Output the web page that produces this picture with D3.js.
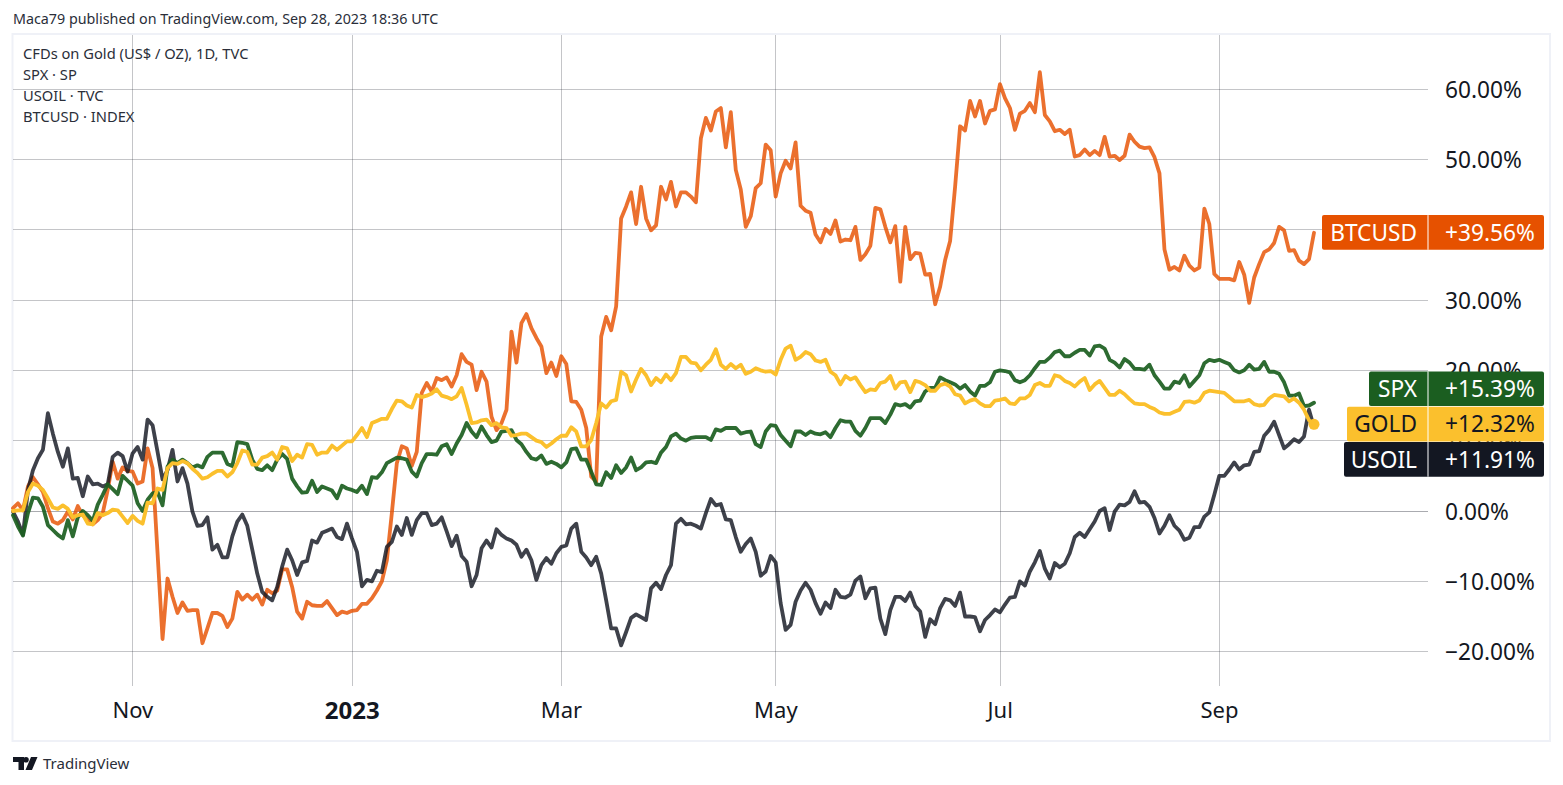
<!DOCTYPE html>
<html>
<head>
<meta charset="utf-8">
<script src="https://cdn.jsdelivr.net/npm/d3@7"></script>
<style>
html, body { margin: 0; padding: 0; background: #fff; overflow: hidden; }
svg { display: block; }
text { font-family: "Noto Sans", sans-serif; fill: #131722; }
.grid line { stroke: #2a2e39; stroke-opacity: .28; stroke-width: 1; shape-rendering: crispEdges; }
.grid .domain { display: none; }
.grid text { font-size: 22.7px; }
.series { fill: none; stroke-width: 3.8; stroke-linejoin: round; stroke-linecap: round; }
</style>
</head>
<body>
<script>
// all values in % change, one per daily bar
const gold = [
0.0,0.1,0.1,2.7,3.9,3.6,3.0,1.8,0.5,0.3,
0.8,0.3,-0.9,-0.6,-0.5,-1.8,-1.9,-0.3,-0.6,-0.3,
0.2,0.1,-0.8,-1.7,-0.7,-1.4,-1.8,1.2,1.1,3.2,
3.0,6.1,6.8,6.7,7.1,6.8,6.0,5.4,4.6,4.8,
5.3,5.7,5.7,4.9,5.5,6.8,8.6,8.4,6.6,6.6,
7.6,7.8,8.3,7.3,9.1,8.9,7.1,8.0,7.6,9.5,
9.4,8.0,8.3,8.3,9.3,8.7,9.3,9.9,9.9,10.8,
11.8,10.5,12.5,12.8,13.1,13.1,14.5,15.7,15.6,15.0,
14.7,16.5,16.2,16.4,16.7,17.3,16.4,16.2,15.9,16.3,
17.5,15.1,12.5,12.6,12.9,13.0,12.2,12.5,11.9,11.8,
10.7,10.8,11.0,11.0,10.5,10.0,9.8,9.1,9.6,10.2,
10.7,10.7,11.9,11.3,9.2,9.2,10.1,12.5,15.3,14.7,
15.6,15.8,19.8,19.3,17.0,18.7,20.2,19.3,17.9,18.9,
18.3,19.4,18.6,19.6,21.9,21.9,21.1,21.0,20.0,20.8,
21.5,23.0,20.8,20.2,20.9,20.3,20.8,19.5,19.8,20.3,
20.0,19.8,19.9,19.4,21.5,23.1,23.5,21.5,21.9,22.6,
22.3,21.4,21.2,21.5,19.8,19.3,18.0,19.2,18.7,19.0,
17.9,16.9,17.3,17.2,18.2,18.4,19.2,17.4,18.3,18.4,
16.9,18.5,18.3,17.9,17.1,17.1,17.9,18.1,17.7,16.6,
16.4,15.3,15.7,15.9,15.3,14.9,14.9,15.7,15.8,16.0,
15.3,15.2,16.0,16.0,16.5,17.9,18.2,17.8,17.8,19.3,
19.1,18.5,18.2,17.7,18.4,18.9,17.2,18.0,18.5,17.5,
16.5,16.5,17.1,16.6,15.9,15.3,15.2,15.2,14.8,14.5,
14.0,13.8,13.8,14.1,14.4,15.5,15.6,15.4,15.7,16.8,
17.1,17.0,16.9,16.8,16.2,15.6,15.6,15.6,15.8,15.2,
15.0,15.1,16.0,16.5,16.4,16.3,15.6,16.0,15.4,14.4,
12.9,12.32];

const spx = [
-0.6,-2.2,-3.5,-0.3,1.9,1.8,0.6,-2.0,-2.7,-3.4,
-3.9,-1.3,-3.6,-0.9,0.0,-0.6,-1.4,0.9,2.3,3.8,
3.1,2.4,5.0,4.3,3.6,1.1,0.0,1.6,2.5,2.7,
0.8,6.3,7.3,6.8,7.3,6.8,6.2,6.5,6.2,7.7,
8.3,8.3,8.3,6.7,6.4,9.8,9.7,9.5,7.3,6.0,
5.8,6.5,5.8,7.3,8.1,7.4,4.6,3.5,2.6,2.7,
4.3,2.7,3.5,3.2,2.9,1.8,3.6,3.2,3.0,2.7,
3.6,2.4,4.8,4.7,5.5,6.8,7.2,7.6,7.5,7.3,
5.6,4.9,6.8,8.1,8.1,8.0,9.2,9.5,8.1,9.6,
10.8,12.5,11.3,10.5,12.0,10.8,9.8,10.0,11.3,11.4,
11.5,10.1,9.5,8.4,7.5,7.3,7.9,6.7,7.0,6.7,
6.2,6.9,8.8,8.9,7.3,7.3,5.6,3.8,3.7,5.5,
4.7,6.5,5.4,6.2,7.6,5.8,6.2,6.9,7.0,6.8,
8.3,9.1,10.6,11.0,10.3,10.0,10.4,10.5,10.5,10.5,
10.1,11.6,11.4,11.8,11.8,11.8,11.0,11.2,11.3,9.5,
9.1,11.3,12.2,12.1,10.8,10.0,9.2,11.3,11.3,10.8,
11.3,11.0,10.9,11.2,10.5,11.8,12.9,12.7,12.7,11.4,
10.7,11.8,13.2,13.2,13.2,12.5,13.7,15.2,15.0,15.2,
14.7,15.6,15.7,17.0,17.5,17.5,19.0,18.6,18.3,18.0,
17.4,17.9,17.0,16.4,17.8,17.8,18.3,19.8,20.0,19.9,
19.7,18.6,18.3,18.6,19.3,20.3,21.2,21.2,21.8,22.6,
22.8,22.0,22.0,22.5,22.9,22.9,22.1,23.4,23.5,23.1,
21.5,21.1,20.4,21.6,21.1,20.2,20.2,20.1,20.8,19.3,
18.4,17.4,17.4,18.4,18.2,19.3,17.7,18.5,19.3,21.0,
21.5,21.3,21.5,21.2,20.9,20.0,19.7,20.0,20.8,20.1,
20.2,21.2,19.8,19.8,19.5,18.3,16.4,16.4,16.7,14.9,
15.0,15.39];

const usoil = [
-0.1,-1.5,-3.4,3.0,5.8,7.5,8.7,13.9,11.0,8.4,
6.3,8.9,4.6,4.7,2.1,4.9,3.8,3.9,3.5,3.8,
7.7,8.3,7.8,5.6,8.2,9.1,7.3,13.0,12.2,8.4,
4.5,5.8,8.7,4.2,6.1,3.9,-0.1,-2.1,-2.0,-0.9,
-5.5,-4.8,-6.6,-6.6,-3.6,-1.5,-0.5,-2.1,-5.5,-8.9,
-11.5,-12.2,-12.7,-10.8,-7.9,-5.5,-7.0,-9.1,-7.3,-7.1,
-4.2,-4.5,-3.1,-2.8,-2.5,-3.7,-4.0,-1.8,-3.9,-5.8,
-10.7,-9.8,-10.0,-8.5,-8.7,-5.1,-4.4,-2.2,-3.4,-1.0,
-3.4,-1.3,-0.3,-0.3,-2.0,-1.8,-0.9,-2.9,-5.0,-3.5,
-6.4,-7.2,-10.7,-9.1,-5.3,-4.2,-5.2,-2.6,-3.4,-3.9,
-4.2,-4.8,-6.5,-5.5,-7.0,-9.8,-7.7,-6.7,-7.5,-6.0,
-5.1,-4.9,-2.5,-1.8,-5.8,-6.6,-7.7,-6.5,-8.9,-12.7,
-16.7,-16.7,-19.1,-17.2,-15.2,-14.7,-15.1,-15.5,-11.0,-10.2,
-11.1,-9.1,-7.7,-1.8,-1.1,-1.9,-1.8,-2.1,-2.5,-0.3,
1.7,0.8,1.0,-1.2,-1.3,-3.7,-5.8,-4.7,-3.9,-5.8,
-9.2,-8.6,-6.4,-7.3,-13.1,-16.9,-16.2,-12.9,-11.3,-10.2,
-11.2,-13.1,-14.6,-13.0,-13.8,-11.2,-12.2,-12.3,-11.9,-9.9,
-9.3,-12.4,-11.0,-10.9,-15.3,-17.5,-14.1,-12.2,-12.2,-12.8,
-11.6,-13.5,-14.3,-17.9,-15.4,-16.1,-13.8,-12.5,-12.7,-13.5,
-11.6,-15.0,-15.0,-15.1,-17.1,-15.5,-14.8,-14.0,-14.4,-13.3,
-12.3,-12.2,-10.0,-10.6,-8.6,-7.3,-5.7,-8.2,-9.6,-7.4,
-8.0,-7.5,-6.0,-3.7,-3.1,-3.7,-2.6,-1.5,0.0,0.4,
-2.7,-0.1,0.9,0.8,1.3,2.8,1.2,1.3,0.6,-1.0,
-3.2,-2.1,-0.6,-2.1,-2.8,-4.1,-3.8,-2.3,-2.3,-0.8,
-0.2,2.3,5.0,5.0,5.9,6.9,5.9,6.5,6.6,8.4,
8.5,10.7,11.5,12.7,10.8,8.9,9.5,10.2,9.8,10.6,
14.4,11.91];

const btcusd = [
0.4,1.1,0.1,3.5,4.8,3.8,2.7,0.4,-1.5,-1.8,
-1.3,-0.1,-1.2,0.7,-0.6,-1.3,-1.9,-1.3,-0.3,3.0,
7.0,4.6,6.2,5.7,5.6,3.9,4.2,8.9,6.1,-6.0,
-18.2,-9.6,-12.2,-14.5,-13.0,-14.2,-14.1,-14.1,-18.8,-16.7,
-14.5,-14.5,-14.9,-16.5,-15.3,-11.5,-12.6,-11.9,-12.6,-11.9,
-13.3,-11.2,-11.7,-11.3,-8.3,-8.3,-10.8,-14.3,-15.3,-12.9,
-13.4,-13.5,-13.5,-12.8,-13.8,-14.8,-14.3,-14.5,-14.2,-14.1,
-13.2,-13.2,-12.4,-11.3,-10.0,-7.0,-0.3,6.8,9.2,8.9,
6.4,8.4,16.8,18.2,17.0,18.9,18.6,19.0,17.7,19.3,
22.3,21.2,20.8,17.2,19.8,18.4,13.4,11.5,12.5,14.4,
25.5,21.1,26.7,28.0,26.0,24.6,23.4,19.6,21.1,19.2,
22.0,20.9,15.6,15.5,14.4,11.8,4.9,4.2,24.8,27.6,
25.7,29.1,41.6,43.3,45.3,40.8,46.1,41.6,39.9,40.6,
46.1,44.3,46.8,43.3,45.3,45.3,44.7,43.9,53.0,55.9,
54.1,56.8,57.3,51.7,56.7,48.5,45.7,40.4,41.9,45.9,
46.6,52.1,51.3,44.7,48.0,49.8,48.7,52.4,43.4,42.7,
42.4,39.3,38.2,40.1,39.4,41.3,38.3,38.6,38.5,40.4,
35.7,36.5,37.7,43.1,42.9,40.4,38.2,40.5,32.6,40.4,
35.8,36.7,36.6,33.6,33.7,29.4,31.9,35.7,38.4,46.1,
54.7,54.1,58.3,56.1,58.3,55.1,56.9,57.1,60.7,58.7,
57.3,54.2,56.5,56.9,58.0,56.7,62.4,56.3,55.4,54.0,
54.2,53.6,54.2,50.4,50.6,51.4,50.6,51.2,50.6,53.2,
50.4,50.5,49.9,50.5,53.5,52.5,51.8,51.6,51.7,50.3,
48.0,37.2,34.3,34.7,34.2,36.3,34.9,34.2,34.6,43.0,
40.8,33.7,33.0,33.0,33.0,32.8,35.4,33.6,29.6,33.2,
35.1,36.8,37.2,38.1,40.4,39.9,37.0,37.1,35.6,35.1,
35.8,39.56];

const percentTicks = [-20, -10, 0, 10, 20, 30, 40, 50, 60];
const monthBars = [24, 68, 110, 153, 198, 242];
const monthLabels = ['Nov', '2023', 'Mar', 'May', 'Jul', 'Sep'];
const legendRows = ['CFDs on Gold (US$ / OZ), 1D, TVC', 'SPX · SP', 'USOIL · TVC', 'BTCUSD · INDEX'];

const seriesData = [btcusd, usoil, spx, gold];
const lineColors = ['#e65100', '#131722', '#1b5e20', '#fbc02d'];
const lineOpacity = [.82, .82, .92, 1];

const width = 1563, height = 785;
const plot = {left: 13, right: 1428, top: 35, bottom: 686};

const svg = d3.select('body').append('svg').attr('width', width).attr('height', height);

const x = d3.scaleLinear().domain([0, 261]).range([13, 1314]);
const y = d3.scaleLinear().domain([0, 60]).range([511, 89]);

svg.append('text').attr('x', 13).attr('y', 24).style('font-size', '14.3px').style('fill', '#2a2e39')
	.text('Maca79 published on TradingView.com, Sep 28, 2023 18:36 UTC');

// frame
svg.append('rect').attr('x', 12.5).attr('y', 34).attr('width', 1537.5).attr('height', 707)
	.attr('fill', 'none').attr('stroke', '#eff1f7').attr('stroke-width', 2);

// axes with the ticks stretched out as grid lines
const yAxis = d3.axisRight(y).tickValues(percentTicks).tickSize(-(plot.right - plot.left)).tickPadding(17).offset(0)
	.tickFormat(d => (d < 0 ? '\u2212' + (-d).toFixed(2) : d.toFixed(2)) + '%');
const yg = svg.append('g').attr('class', 'grid').attr('transform', `translate(${plot.right},0)`).call(yAxis);
yg.selectAll('line').filter(d => d == 0).style('stroke-opacity', .4);
yg.selectAll('text').attr('dy', '.38em');

const xAxis = d3.axisBottom(x).tickValues(monthBars).tickSize(-(plot.bottom - plot.top)).tickPadding(16).offset(.2)
	.tickFormat((d, i) => monthLabels[i]);
const xg = svg.append('g').attr('class', 'grid').attr('transform', `translate(0,${plot.bottom})`).call(xAxis);
xg.selectAll('text').style('font-size', '22px');
xg.selectAll('text').filter((d, i) => monthLabels[i] == '2023').style('font-weight', 700).style('font-size', '24px');

svg.append('g').selectAll('text').data(legendRows).enter().append('text')
	.attr('x', 23).attr('y', (d, i) => 59 + i * 21)
	.style('font-size', '14.7px').style('fill', '#2a2e39').text(d => d);

const line = d3.line().x((d, i) => x(i)).y(d => y(d));
svg.append('g').selectAll('path').data(seriesData).enter().append('path')
	.attr('class', 'series')
	.attr('d', d => line(d))
	.attr('stroke', (d, i) => lineColors[i])
	.attr('stroke-opacity', (d, i) => lineOpacity[i]);

svg.append('circle').attr('cx', x(261)).attr('cy', y(gold[261])).attr('r', 5.5).attr('fill', '#fbc02d');

// price tags, the three close ones get stacked around the middle one
const tagH = 35.3;
const tags = [
	{name: 'BTCUSD', value: btcusd[261], fill: '#e65100', text: '#fff', left: 1322, cy: y(btcusd[261])},
	{name: 'SPX', value: spx[261], fill: '#1b5e20', text: '#fff', left: 1369, cy: y(gold[261]) - tagH},
	{name: 'GOLD', value: gold[261], fill: '#fbc02d', text: '#131722', left: 1347, cy: y(gold[261])},
	{name: 'USOIL', value: usoil[261], fill: '#131722', text: '#fff', left: 1344, cy: y(gold[261]) + tagH}
];
const tag = svg.append('g').selectAll('g').data(tags).enter().append('g');
tag.append('rect').attr('x', d => d.left).attr('y', d => d.cy - tagH / 2).attr('width', d => 1544 - d.left)
	.attr('height', tagH - .6).attr('rx', 2).attr('fill', d => d.fill);
tag.append('rect').attr('x', 1427.5).attr('y', d => d.cy - tagH / 2).attr('width', 1).attr('height', tagH - .6).attr('fill', '#fff');
tag.append('text').attr('x', 1417).attr('y', d => d.cy).attr('dy', '.35em').attr('text-anchor', 'end')
	.style('font-size', '22.7px').style('fill', d => d.text).text(d => d.name);
tag.append('text').attr('x', 1445).attr('y', d => d.cy).attr('dy', '.35em')
	.style('font-size', '22.7px').style('fill', d => d.text).text(d => '+' + d.value.toFixed(2) + '%');

// logo + name at the bottom
svg.append('path').attr('fill', '#131722')
	.attr('d', 'M13 757h11v13h-5.5v-8H13zM31 757h6.5l-5.5 13h-6.5zM26 757a2.8 2.8 0 1 1 0 5.6a2.8 2.8 0 1 1 0-5.6z');
svg.append('text').attr('x', 43).attr('y', 769).style('font-size', '15px').style('fill', '#2a2e39').text('TradingView');
</script>
</body>
</html>
